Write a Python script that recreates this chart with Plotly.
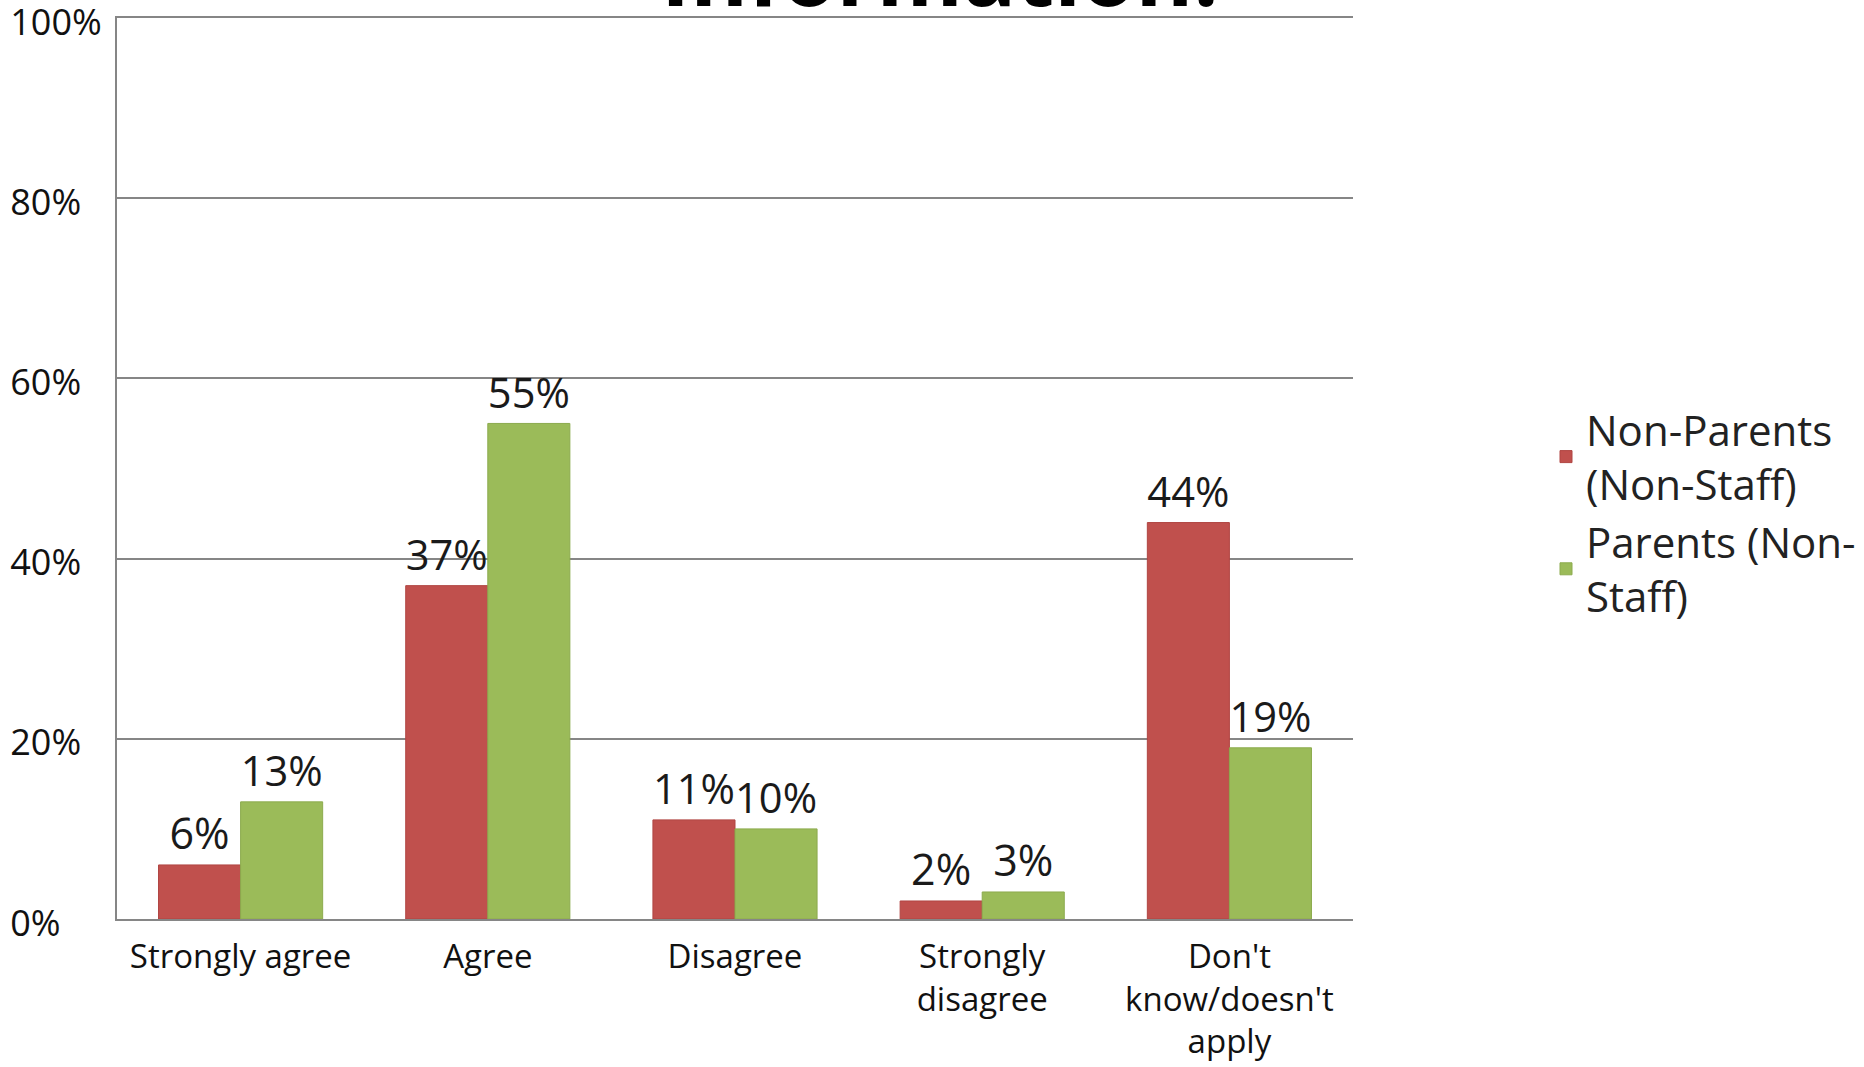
import plotly.graph_objects as go

categories = ["Strongly agree", "Agree", "Disagree", "Strongly<br>disagree", "Don't<br>know/doesn't<br>apply"]
non_parents = [6, 37, 11, 2, 44]
parents = [13, 55, 10, 3, 19]
series_names = ["Non-Parents<br>(Non-Staff)", "Parents (Non-<br>Staff)"]
y_ticks = [0, 20, 40, 60, 80, 100]
y_tick_labels = ["0%\u2007\u2007", "20%\u2007", "40%\u2007", "60%\u2007", "80%\u2007", "100%"]
title_text = "Information."

W, H = 1864, 1067
ML, MR, MT, MB = 117, 511, 18, 148
paper_w = W - ML - MR
paper_h = H - MT - MB

RED = "#C0504D"
GREEN = "#9BBB59"
GRID = "#868686"

fig = go.Figure()
for name, vals, col, lc in [(series_names[0], non_parents, RED, "#B04542"),
                            (series_names[1], parents, GREEN, "#8CAB4E")]:
    fig.add_trace(go.Bar(
        x=categories, y=vals, name=name,
        marker=dict(color=col, line=dict(color=lc, width=1)),
        text=[f"{v}%" for v in vals], textposition="outside",
        textfont=dict(family="Open Sans", size=43, color="#1a1a1a"),
        cliponaxis=False, hoverinfo="skip",
    ))

fig.update_layout(
    width=W, height=H,
    margin=dict(l=ML, r=MR, t=MT, b=MB, pad=0, autoexpand=False),
    paper_bgcolor="white", plot_bgcolor="white",
    barmode="group", bargap=0.336, bargroupgap=0,
    font=dict(family="Open Sans", color="#111111"),
    showlegend=True,
    legend=dict(
        x=(1546 - ML) / paper_w, xanchor="left",
        y=(919 - 513) / paper_h, yanchor="middle",
        font=dict(family="Open Sans", size=42, color="#222222"),
        bgcolor="rgba(0,0,0,0)", tracegroupgap=0,
    ),
    xaxis=dict(
        showgrid=False, showline=True, mirror=True, linecolor=GRID, linewidth=2,
        automargin=False,
        ticks="", tickfont=dict(family="Open Sans", size=33, color="#111111"),
        ticklabelstandoff=7, tickangle=0,
    ),
    yaxis=dict(
        range=[0, 100], tickvals=y_ticks, ticktext=y_tick_labels, automargin=False,
        showgrid=True, gridcolor=GRID, gridwidth=2, zeroline=False,
        showline=True, linecolor=GRID, linewidth=2,
        ticks="", ticklabelstandoff=6, ticklabelshift=4, ticklabeloverflow="allow",
        tickfont=dict(family="Open Sans", size=36, color="#111111"),
    ),
    annotations=[dict(
        text="<b>" + title_text + "</b>", xref="paper", yref="paper",
        x=(940 - ML) / paper_w, xanchor="center",
        y=(919 - 34) / paper_h, yanchor="bottom",
        showarrow=False, font=dict(family="Open Sans", size=88, color="#000000"),
    )],
)

fig.write_html(
    "out.html",
    config={"displayModeBar": False},
    post_script="document.body.style.margin='0';document.body.style.overflow='hidden';",
)
